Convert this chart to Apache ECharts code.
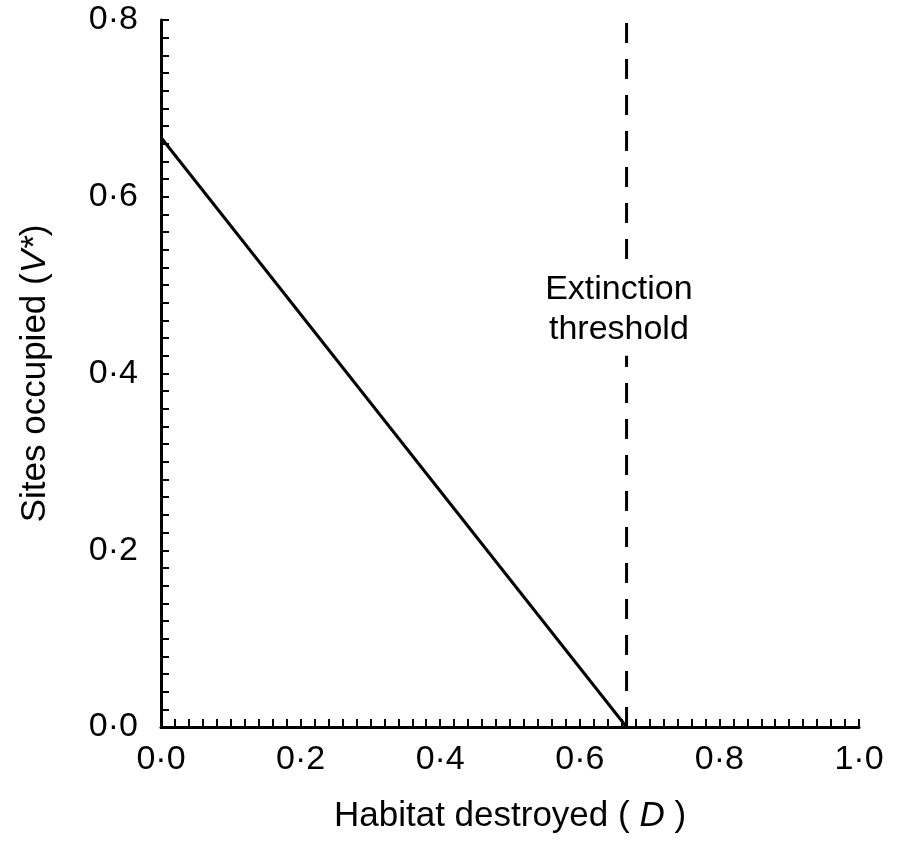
<!DOCTYPE html>
<html>
<head>
<meta charset="utf-8">
<script src="https://cdn.jsdelivr.net/npm/echarts@6/dist/echarts.min.js"></script>
<style>
  html, body { margin: 0; padding: 0; background: #fff; }
  #myChart { width: 904px; height: 841px; }
</style>
</head>
<body>
<div id="myChart"></div>
<script>
// values
var occupiedLine = [[0, 0.667], [0.667, 0]];          // V* falls linearly to zero at the threshold
var thresholdLine = [[0.667, 0], [0.667, 0.805]];     // extinction threshold (dashed)
var thresholdLabel = [[0.656, 0.472]];                // where the label text sits
var labelText = 'Extinction\nthreshold';

var font = 'Liberation Sans';

function fmt(v) {
	return v.toFixed(1).replace('.', '·');
}

var myChart = echarts.init(document.getElementById('myChart'));

var option = {
	animation: false,
	backgroundColor: '#fff',
	grid: { left: 161, right: 45, top: 20, bottom: 114 },
	xAxis: {
		type: 'value',
		min: 0, max: 1, interval: 0.2,
		name: 'Habitat destroyed ( {i|D} )',
		nameLocation: 'middle',
		nameGap: 72,
		nameTextStyle: {
			fontFamily: font, fontSize: 35, color: '#000',
			rich: { i: { fontFamily: font, fontSize: 35, fontStyle: 'italic', color: '#000' } }
		},
		axisLine: { onZero: false, lineStyle: { color: '#000', width: 3 } },
		axisTick: { inside: true, length: 8, lineStyle: { color: '#000', width: 2 } },
		minorTick: { show: true, splitNumber: 10, length: 8, lineStyle: { color: '#000', width: 2 } },
		axisLabel: { formatter: fmt, margin: 16, fontFamily: font, fontSize: 34, color: '#000' },
		splitLine: { show: false }
	},
	yAxis: {
		type: 'value',
		min: 0, max: 0.8, interval: 0.2,
		name: 'Sites occupied ({i|V*})',
		nameLocation: 'middle',
		nameGap: 108,
		nameTextStyle: {
			fontFamily: font, fontSize: 35, color: '#000',
			rich: { i: { fontFamily: font, fontSize: 35, fontStyle: 'italic', color: '#000' } }
		},
		axisLine: { onZero: false, lineStyle: { color: '#000', width: 3 } },
		axisTick: { inside: true, length: 8, lineStyle: { color: '#000', width: 2 } },
		minorTick: { show: true, splitNumber: 10, length: 8, lineStyle: { color: '#000', width: 2 } },
		axisLabel: { formatter: fmt, margin: 23, fontFamily: font, fontSize: 34, color: '#000' },
		splitLine: { show: false }
	},
	series: [
		{
			name: 'occupied',
			type: 'line',
			data: occupiedLine,
			symbol: 'none',
			lineStyle: { color: '#000', width: 3 }
		},
		{
			name: 'threshold',
			type: 'line',
			data: thresholdLine,
			symbol: 'none',
			clip: false,
			lineStyle: { color: '#000', width: 3, type: [20, 16] }
		},
		{
			name: 'label',
			type: 'scatter',
			data: thresholdLabel,
			symbolSize: 0,
			z: 5,
			itemStyle: { opacity: 1 },
			label: {
				show: true,
				position: 'inside',
				formatter: labelText,
				fontFamily: font,
				fontSize: 34,
				lineHeight: 40,
				color: '#000',
				backgroundColor: '#fff',
				padding: [6, 4]
			}
		}
	]
};

myChart.setOption(option);
</script>
</body>
</html>
